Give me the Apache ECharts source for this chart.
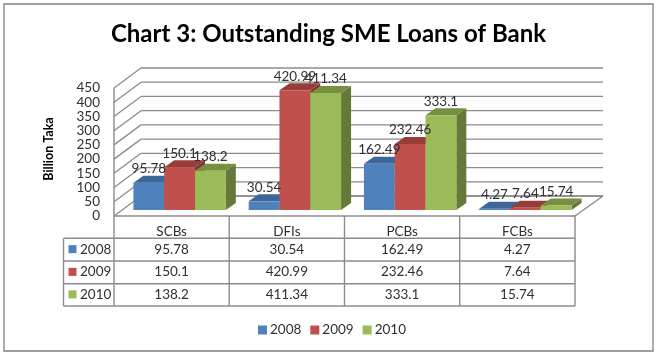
<!DOCTYPE html>
<html>
<head>
<meta charset="utf-8">
<style>html,body{margin:0;padding:0;background:#fff}#c{width:657px;height:355px}</style>
<script src="https://cdn.jsdelivr.net/npm/echarts@6/dist/echarts.min.js"></script>
</head>
<body>
<div id="c"></div>
<script>
const categories = ['SCBs', 'DFIs', 'PCBs', 'FCBs'];
const years = ['2008', '2009', '2010'];
const values2008 = [95.78, 30.54, 162.49, 4.27];
const values2009 = [150.1, 420.99, 232.46, 7.64];
const values2010 = [138.2, 411.34, 333.1, 15.74];
const tickValues = [0, 50, 100, 150, 200, 250, 300, 350, 400, 450];
const titleText = 'Chart 3: Outstanding SME Loans of Bank';
const axisTitle = 'Billion Taka';

const seriesValues = [values2008, values2009, values2010];
const colors = ['#4F81BD', '#C0504D', '#9BBB59'];
const topColors = ['#3C6797', '#983C3A', '#76903F'];
const sideColors = ['#2F5480', '#7E3432', '#64793A'];
const FONT = 'Lato, "Open Sans", sans-serif';
const GRID = '#8C8C8C';
const TEXT = '#303030';
const FS = 13.5;

const L = 114, R = 575, T = 88, B = 216;
const WALL_DX = 27, WALL_DY = -20;
const BAR_W = 30.8, BAR_DX = 10, BAR_DY = -7, FRONT_DX = 8, FRONT_DY = -6;

const lineStyle = { stroke: GRID, lineWidth: 1.3, fill: null };

function renderWall(params, api) {
  const p = api.coord([0, api.value(0)]);
  const y = p[1], x0 = L;
  const x1 = L + WALL_DX, y1 = y + WALL_DY;
  const xEnd = R + WALL_DX + 1;
  return {
    type: 'group', silent: true,
    children: [
      { type: 'line', shape: { x1: x0, y1: y, x2: x1, y2: y1 }, style: lineStyle },
      { type: 'line', shape: { x1: x1, y1: y1, x2: xEnd, y2: y1 }, style: lineStyle }
    ]
  };
}

function makeBarRenderer(idx) {
  return function (params, api) {
    const cat = api.value(0), val = api.value(1);
    const top = api.coord([cat, val]);
    const base = api.coord([cat, 0]);
    const xl = top[0] + FRONT_DX + (idx - 1.5) * BAR_W;
    const xr = xl + BAR_W;
    const yt = top[1] + FRONT_DY;
    const yb = base[1] + FRONT_DY;
    return {
      type: 'group',
      children: [
        { type: 'polygon', shape: { points: [[xr, yt], [xr + BAR_DX, yt + BAR_DY], [xr + BAR_DX, yb + BAR_DY], [xr, yb]] }, style: { fill: sideColors[idx] } },
        { type: 'polygon', shape: { points: [[xl, yt], [xl + BAR_DX, yt + BAR_DY], [xr + BAR_DX, yt + BAR_DY], [xr, yt]] }, style: { fill: topColors[idx] } },
        { type: 'rect', shape: { x: xl, y: yt, width: BAR_W, height: yb - yt }, style: { fill: colors[idx] } },
        { type: 'text', z2: 100, silent: true, x: (xl + xr) / 2, y: yt - 14,
          style: { text: String(val), fill: TEXT, font: FS + 'px ' + FONT, align: 'center', verticalAlign: 'middle' } }
      ]
    };
  };
}

const colXs = [114, 229.2, 344.5, 459.7, 575];
const rowYs = [216, 238.3, 261, 283.7, 306];
const TABLE_L = 63.5;

function buildGraphic() {
  const g = [];
  const gridLine = (x1, y1, x2, y2, w) => g.push({ type: 'line', silent: true, shape: { x1, y1, x2, y2 }, style: { stroke: GRID, lineWidth: w || 1.4 } });
  g.push({ type: 'rect', silent: true, z: -1, shape: { x: 4, y: 4, width: 649, height: 347 }, style: { fill: '#fff', stroke: '#808080', lineWidth: 1.3 } });
  gridLine(L + WALL_DX, B + WALL_DY, R + WALL_DX + 1, B + WALL_DY);
  gridLine(R, B, R + WALL_DX + 1, B + WALL_DY);
  gridLine(L, T, L, B);
  colXs.forEach(x => gridLine(x, B, x, rowYs[4]));
  gridLine(TABLE_L, rowYs[1], TABLE_L, rowYs[4]);
  gridLine(L, rowYs[0], R, rowYs[0]);
  rowYs.slice(1).forEach(y => gridLine(TABLE_L, y, R, y));
  years.forEach((year, r) => {
    const cy = (rowYs[r + 1] + rowYs[r + 2]) / 2 - 0.5;
    g.push({ type: 'rect', silent: true, shape: { x: 68.5, y: cy - 4, width: 8, height: 8 }, style: { fill: colors[r] } });
    g.push({ type: 'text', silent: true, x: 80, y: cy, style: { text: year, fill: TEXT, font: FS + 'px ' + FONT, align: 'left', verticalAlign: 'middle' } });
    seriesValues[r].forEach((v, c) => {
      g.push({ type: 'text', silent: true, x: (colXs[c] + colXs[c + 1]) / 2, y: cy, style: { text: String(v), fill: TEXT, font: FS + 'px ' + FONT, align: 'center', verticalAlign: 'middle' } });
    });
  });
  g.push({ type: 'text', silent: true, x: 49, y: 149, rotation: Math.PI / 2, style: { text: axisTitle, fill: '#000', font: 'bold 12.5px ' + FONT, align: 'center', verticalAlign: 'middle' } });
  return g;
}

const chart = echarts.init(document.getElementById('c'), null, { renderer: 'canvas' });
chart.setOption({
  animation: false,
  backgroundColor: '#fff',
  title: { text: titleText, left: 'center', top: 17, textStyle: { fontFamily: FONT, fontSize: 24, fontWeight: 'bold', color: '#000' } },
  legend: {
    data: years, left: 253, top: 318, itemWidth: 9, itemHeight: 9, itemGap: 9, icon: 'rect', selectedMode: false,
    textStyle: { fontFamily: FONT, fontSize: FS, color: TEXT, padding: [0, 0, 0, -2] }
  },
  grid: { left: L, top: T, width: R - L, height: B - T },
  xAxis: {
    type: 'category', data: categories,
    axisLine: { show: false }, axisTick: { show: false }, splitLine: { show: false },
    axisLabel: { margin: 9, color: TEXT, fontFamily: FONT, fontSize: FS }
  },
  yAxis: {
    type: 'value', min: 0, max: 450, interval: 50,
    axisLine: { show: false }, axisTick: { show: false }, splitLine: { show: false },
    axisLabel: { margin: 14, color: TEXT, fontFamily: FONT, fontSize: FS, padding: [5, 0, 0, 0], verticalAlignMinLabel: 'middle', verticalAlignMaxLabel: 'middle' }
  },
  graphic: buildGraphic(),
  series: [
    { type: 'custom', name: 'walls', z: 1, silent: true, coordinateSystem: 'cartesian2d', data: tickValues.map(v => [v]), encode: { y: 0 }, renderItem: renderWall }
  ].concat(years.map((y, i) => ({
    type: 'custom', name: y, z: 2, coordinateSystem: 'cartesian2d',
    itemStyle: { color: colors[i] },
    encode: { x: 0, y: 1 },
    data: seriesValues[i].map((v, c) => [c, v]),
    renderItem: makeBarRenderer(i)
  })))
});
</script>
</body>
</html>
